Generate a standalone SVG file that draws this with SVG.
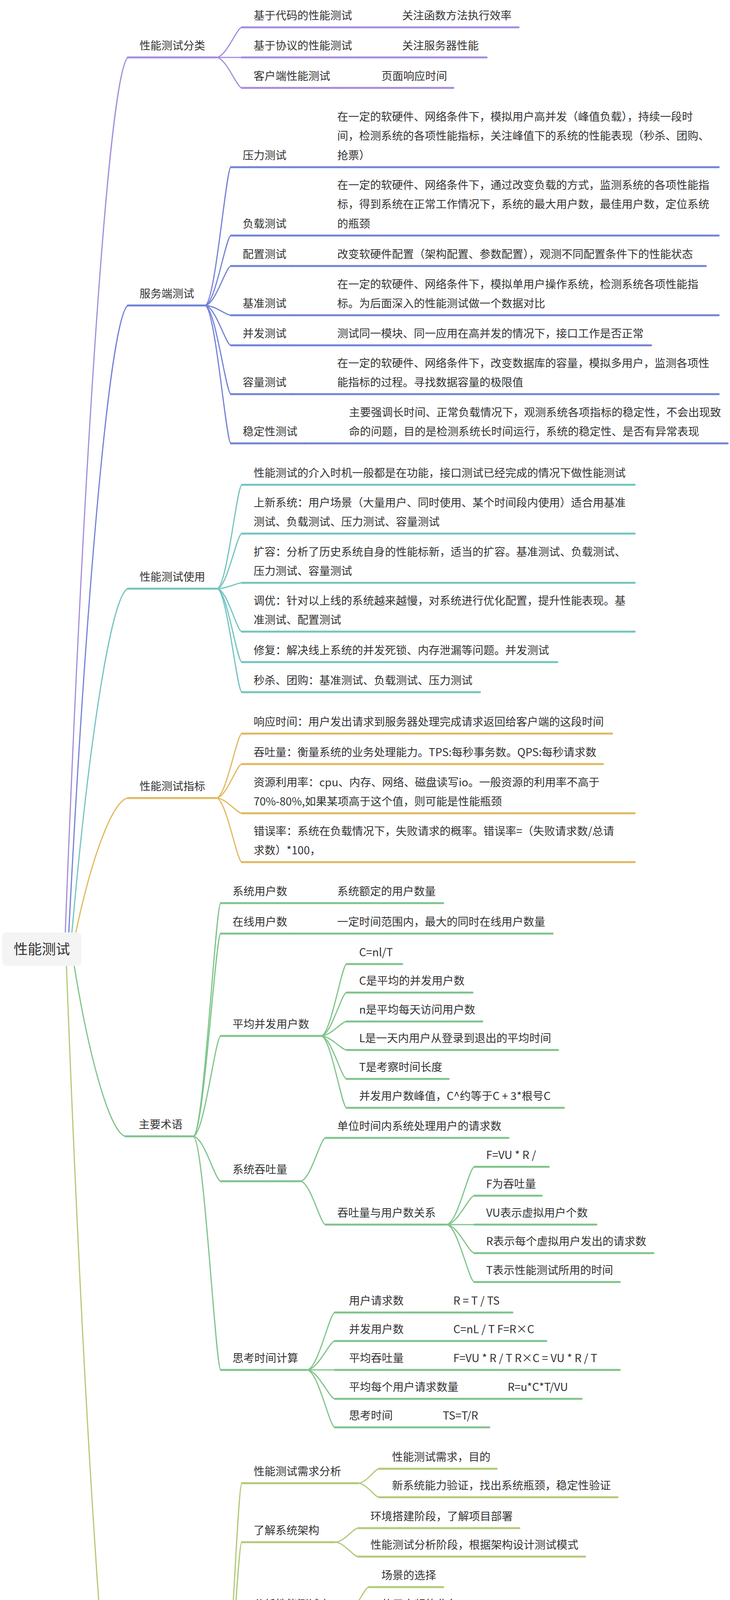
<svg xmlns="http://www.w3.org/2000/svg" width="1868" height="5790" viewBox="0 0 1868 5790">
<style>
.t{font-family:"Noto Sans CJK SC","Noto Sans",sans-serif;font-size:28px;fill:#333333}
.rt{font-family:"Noto Sans CJK SC","Noto Sans",sans-serif;font-size:36px;fill:#333333}
.ul{fill:none;stroke-width:5;stroke-linecap:round}
.cn{fill:none;stroke-width:3;stroke-linecap:round}
.pu{stroke:#a48ddc}.bl{stroke:#7383d7}.te{stroke:#73c4bf}.go{stroke:#e0b85e}.gr{stroke:#7ec48b}.yg{stroke:#b2c977}
</style>
<rect width="1868" height="5790" fill="#ffffff"/>
<g id="connectors">
<path class="cn pu" d="M167 2387 C215 1155 279 192 327 147"/>
<path class="cn bl" d="M176 2387 C221 1504 282 814 327 782"/>
<path class="cn te" d="M184 2387 C227 1903 284 1525 327 1507"/>
<path class="cn go" d="M194 2387 C234 2198 287 2050 327 2043"/>
<path class="cn gr" d="M190 2473 C229 2713 282 2900 321 2909"/>
<path class="cn yg" d="M170 2473 C217 3705 280 4668 327 4713"/>
<path class="cn pu" d="M553 147 C579 147 606 70 619 70"/>
<path class="cn pu" d="M553 147 L619 147"/>
<path class="cn pu" d="M553 147 C579 147 606 225 619 225"/>
<path class="cn bl" d="M524 782 C551 782 578 428 591 428"/>
<path class="cn bl" d="M524 782 C551 782 578 603 591 603"/>
<path class="cn bl" d="M524 782 C551 782 578 681 591 681"/>
<path class="cn bl" d="M524 782 C551 782 578 807 591 807"/>
<path class="cn bl" d="M524 782 C551 782 578 884 591 884"/>
<path class="cn bl" d="M524 782 C551 782 578 1009 591 1009"/>
<path class="cn bl" d="M524 782 C551 782 578 1135 591 1135"/>
<path class="cn te" d="M555 1507 C581 1507 606 1241 619 1241"/>
<path class="cn te" d="M555 1507 C581 1507 606 1366 619 1366"/>
<path class="cn te" d="M555 1507 C581 1507 606 1492 619 1492"/>
<path class="cn te" d="M555 1507 C581 1507 606 1617 619 1617"/>
<path class="cn te" d="M555 1507 C581 1507 606 1695 619 1695"/>
<path class="cn te" d="M555 1507 C581 1507 606 1772 619 1772"/>
<path class="cn go" d="M553 2043 C579 2043 606 1878 619 1878"/>
<path class="cn go" d="M553 2043 C579 2043 606 1956 619 1956"/>
<path class="cn go" d="M553 2043 C579 2043 606 2082 619 2082"/>
<path class="cn go" d="M553 2043 C579 2043 606 2207 619 2207"/>
<path class="cn gr" d="M494 2909 C522 2909 551 2312 565 2312"/>
<path class="cn gr" d="M494 2909 C522 2909 551 2390 565 2390"/>
<path class="cn gr" d="M494 2909 C522 2909 551 2652 565 2652"/>
<path class="cn gr" d="M494 2909 C522 2909 551 3024 565 3024"/>
<path class="cn gr" d="M494 2909 C522 2909 551 3507 565 3507"/>
<path class="cn gr" d="M821 2652 C847 2652 874 2468 887 2468"/>
<path class="cn gr" d="M821 2652 C847 2652 874 2541 887 2541"/>
<path class="cn gr" d="M821 2652 C847 2652 874 2615 887 2615"/>
<path class="cn gr" d="M821 2652 C847 2652 874 2688 887 2688"/>
<path class="cn gr" d="M821 2652 C847 2652 874 2762 887 2762"/>
<path class="cn gr" d="M821 2652 C847 2652 874 2836 887 2836"/>
<path class="cn gr" d="M768 3024 C794 3024 820 2913 833 2913"/>
<path class="cn gr" d="M768 3024 C794 3024 820 3135 833 3135"/>
<path class="cn gr" d="M1142 3135 C1171 3135 1200 2987 1214 2987"/>
<path class="cn gr" d="M1142 3135 C1171 3135 1200 3061 1214 3061"/>
<path class="cn gr" d="M1142 3135 L1214 3135"/>
<path class="cn gr" d="M1142 3135 C1171 3135 1200 3208 1214 3208"/>
<path class="cn gr" d="M1142 3135 C1171 3135 1200 3282 1214 3282"/>
<path class="cn gr" d="M785 3507 C814 3507 843 3360 857 3360"/>
<path class="cn gr" d="M785 3507 C814 3507 843 3433 857 3433"/>
<path class="cn gr" d="M785 3507 L857 3507"/>
<path class="cn gr" d="M785 3507 C814 3507 843 3581 857 3581"/>
<path class="cn gr" d="M785 3507 C814 3507 843 3654 857 3654"/>
<path class="cn yg" d="M547 4713 C576 4713 605 3797 619 3797"/>
<path class="cn yg" d="M547 4713 C576 4713 605 3948 619 3948"/>
<path class="cn yg" d="M547 4713 C576 4713 605 4137 619 4137"/>
<path class="cn yg" d="M547 4713 C576 4713 605 4362 619 4362"/>
<path class="cn yg" d="M547 4713 C576 4713 605 4697 619 4697"/>
<path class="cn yg" d="M547 4713 C576 4713 605 5069 619 5069"/>
<path class="cn yg" d="M547 4713 C576 4713 605 5331 619 5331"/>
<path class="cn yg" d="M547 4713 C576 4713 605 5629 619 5629"/>
<path class="cn yg" d="M916 3797 C938 3797 959 3760 970 3760"/>
<path class="cn yg" d="M916 3797 C938 3797 959 3833 970 3833"/>
<path class="cn yg" d="M857 3948 C881 3948 904 3912 916 3912"/>
<path class="cn yg" d="M857 3948 C881 3948 904 3985 916 3985"/>
<path class="cn yg" d="M881 4137 C906 4137 931 4063 944 4063"/>
<path class="cn yg" d="M881 4137 L944 4137"/>
<path class="cn yg" d="M881 4137 C906 4137 931 4210 944 4210"/>
<path class="cn yg" d="M851 4362 C877 4362 903 4288 916 4288"/>
<path class="cn yg" d="M851 4362 L916 4362"/>
<path class="cn yg" d="M851 4362 C877 4362 903 4435 916 4435"/>
<path class="cn yg" d="M791 4697 C818 4697 845 4513 859 4513"/>
<path class="cn yg" d="M791 4697 C818 4697 845 4587 859 4587"/>
<path class="cn yg" d="M791 4697 C818 4697 845 4660 859 4660"/>
<path class="cn yg" d="M791 4697 C818 4697 845 4734 859 4734"/>
<path class="cn yg" d="M791 4697 C818 4697 845 4807 859 4807"/>
<path class="cn yg" d="M791 4697 C818 4697 845 4881 859 4881"/>
<path class="cn yg" d="M791 5069 C818 5069 845 4959 859 4959"/>
<path class="cn yg" d="M791 5069 C818 5069 845 5032 859 5032"/>
<path class="cn yg" d="M791 5069 C818 5069 845 5106 859 5106"/>
<path class="cn yg" d="M791 5069 C818 5069 845 5180 859 5180"/>
<path class="cn yg" d="M791 5331 C818 5331 845 5258 859 5258"/>
<path class="cn yg" d="M791 5331 L859 5331"/>
<path class="cn yg" d="M791 5331 C818 5331 845 5405 859 5405"/>
<path class="cn yg" d="M904 5629 C930 5629 957 5482 970 5482"/>
<path class="cn yg" d="M904 5629 C930 5629 957 5556 970 5556"/>
<path class="cn yg" d="M904 5629 L970 5629"/>
<path class="cn yg" d="M904 5629 C930 5629 957 5703 970 5703"/>
<path class="cn yg" d="M904 5629 C930 5629 957 5777 970 5777"/>
</g>
<g id="root"><rect x="6" y="2387" width="202" height="86" rx="10" fill="#f4f4f4"/><text class="rt" x="107" y="2443" text-anchor="middle">性能测试</text></g>

<g id="n-fenlei"><line class="ul pu" x1="327" y1="147" x2="553" y2="147"/><text class="t" x="357" y="127">性能测试分类</text></g>
<g id="n-daima"><line class="ul pu" x1="619" y1="70" x2="916" y2="70"/><text class="t" x="649" y="50">基于代码的性能测试</text></g>
<g id="n-daima-v"><line class="ul pu" x1="916" y1="70" x2="1327" y2="70"/><text class="t" x="1029" y="50">关注函数方法执行效率</text></g>
<g id="n-xieyi"><line class="ul pu" x1="619" y1="147" x2="916" y2="147"/><text class="t" x="649" y="127">基于协议的性能测试</text></g>
<g id="n-xieyi-v"><line class="ul pu" x1="916" y1="147" x2="1245" y2="147"/><text class="t" x="1029" y="127">关注服务器性能</text></g>
<g id="n-kehu"><line class="ul pu" x1="619" y1="225" x2="863" y2="225"/><text class="t" x="649" y="205">客户端性能测试</text></g>
<g id="n-kehu-v"><line class="ul pu" x1="863" y1="225" x2="1160" y2="225"/><text class="t" x="976" y="205">页面响应时间</text></g>

<g id="n-fuwu"><line class="ul bl" x1="327" y1="782" x2="524" y2="782"/><text class="t" x="357" y="762">服务端测试</text></g>
<g id="n-yali"><line class="ul bl" x1="591" y1="428" x2="750" y2="428"/><text class="t" x="621" y="408">压力测试</text></g>
<g id="n-yali-d"><line class="ul bl" x1="750" y1="428" x2="1839" y2="428"/><text class="t"><tspan x="863" y="309">在一定的软硬件、网络条件下，模拟用户高并发（峰值负载），持续一段时</tspan><tspan x="863" y="358">间，检测系统的各项性能指标，关注峰值下的系统的性能表现（秒杀、团购、</tspan><tspan x="863" y="408">抢票）</tspan></text></g>
<g id="n-fuzai"><line class="ul bl" x1="591" y1="603" x2="750" y2="603"/><text class="t" x="621" y="583">负载测试</text></g>
<g id="n-fuzai-d"><line class="ul bl" x1="750" y1="603" x2="1839" y2="603"/><text class="t"><tspan x="863" y="484">在一定的软硬件、网络条件下，通过改变负载的方式，监测系统的各项性能指</tspan><tspan x="863" y="533">标，得到系统在正常工作情况下，系统的最大用户数，最佳用户数，定位系统</tspan><tspan x="863" y="583">的瓶颈</tspan></text></g>
<g id="n-peizhi"><line class="ul bl" x1="591" y1="681" x2="750" y2="681"/><text class="t" x="621" y="661">配置测试</text></g>
<g id="n-peizhi-d"><line class="ul bl" x1="750" y1="681" x2="1806" y2="681"/><text class="t" x="863" y="661">改变软硬件配置（架构配置、参数配置），观测不同配置条件下的性能状态</text></g>
<g id="n-jizhun"><line class="ul bl" x1="591" y1="807" x2="750" y2="807"/><text class="t" x="621" y="787">基准测试</text></g>
<g id="n-jizhun-d"><line class="ul bl" x1="750" y1="807" x2="1839" y2="807"/><text class="t"><tspan x="863" y="738">在一定的软硬件、网络条件下，模拟单用户操作系统，检测系统各项性能指</tspan><tspan x="863" y="787">标。为后面深入的性能测试做一个数据对比</tspan></text></g>
<g id="n-bingfa"><line class="ul bl" x1="591" y1="884" x2="750" y2="884"/><text class="t" x="621" y="864">并发测试</text></g>
<g id="n-bingfa-d"><line class="ul bl" x1="750" y1="884" x2="1666" y2="884"/><text class="t" x="863" y="864">测试同一模块、同一应用在高并发的情况下，接口工作是否正常</text></g>
<g id="n-rongliang"><line class="ul bl" x1="591" y1="1009" x2="750" y2="1009"/><text class="t" x="621" y="989">容量测试</text></g>
<g id="n-rongliang-d"><line class="ul bl" x1="750" y1="1009" x2="1839" y2="1009"/><text class="t"><tspan x="863" y="940">在一定的软硬件、网络条件下，改变数据库的容量，模拟多用户，监测各项性</tspan><tspan x="863" y="989">能指标的过程。寻找数据容量的极限值</tspan></text></g>
<g id="n-wending"><line class="ul bl" x1="591" y1="1135" x2="780" y2="1135"/><text class="t" x="621" y="1115">稳定性测试</text></g>
<g id="n-wending-d"><line class="ul bl" x1="780" y1="1135" x2="1862" y2="1135"/><text class="t"><tspan x="893" y="1066">主要强调长时间、正常负载情况下，观测系统各项指标的稳定性，不会出现致</tspan><tspan x="893" y="1115">命的问题，目的是检测系统长时间运行，系统的稳定性、是否有异常表现</tspan></text></g>

<g id="n-shiyong"><line class="ul te" x1="327" y1="1507" x2="555" y2="1507"/><text class="t" x="357" y="1487">性能测试使用</text></g>
<g id="n-su1"><line class="ul te" x1="619" y1="1241" x2="1624" y2="1241"/><text class="t" x="649" y="1221">性能测试的介入时机一般都是在功能，接口测试已经完成的情况下做性能测试</text></g>
<g id="n-su2"><line class="ul te" x1="619" y1="1366" x2="1624" y2="1366"/><text class="t"><tspan x="649" y="1297">上新系统：用户场景（大量用户、同时使用、某个时间段内使用）适合用基准</tspan><tspan x="649" y="1346">测试、负载测试、压力测试、容量测试</tspan></text></g>
<g id="n-su3"><line class="ul te" x1="619" y1="1492" x2="1624" y2="1492"/><text class="t"><tspan x="649" y="1423">扩容：分析了历史系统自身的性能标新，适当的扩容。基准测试、负载测试、</tspan><tspan x="649" y="1472">压力测试、容量测试</tspan></text></g>
<g id="n-su4"><line class="ul te" x1="619" y1="1617" x2="1624" y2="1617"/><text class="t"><tspan x="649" y="1548">调优：针对以上线的系统越来越慢，对系统进行优化配置，提升性能表现。基</tspan><tspan x="649" y="1597">准测试、配置测试</tspan></text></g>
<g id="n-su5"><line class="ul te" x1="619" y1="1695" x2="1426" y2="1695"/><text class="t" x="649" y="1675">修复：解决线上系统的并发死锁、内存泄漏等问题。并发测试</text></g>
<g id="n-su6"><line class="ul te" x1="619" y1="1772" x2="1228" y2="1772"/><text class="t" x="649" y="1752">秒杀、团购：基准测试、负载测试、压力测试</text></g>

<g id="n-zhibiao"><line class="ul go" x1="327" y1="2043" x2="553" y2="2043"/><text class="t" x="357" y="2023">性能测试指标</text></g>
<g id="n-zb1"><line class="ul go" x1="619" y1="1878" x2="1566" y2="1878"/><text class="t" x="649" y="1858">响应时间：用户发出请求到服务器处理完成请求返回给客户端的这段时间</text></g>
<g id="n-zb2"><line class="ul go" x1="619" y1="1956" x2="1543" y2="1956"/><text class="t" x="649" y="1936">吞吐量：衡量系统的业务处理能力。TPS:每秒事务数。QPS:每秒请求数</text></g>
<g id="n-zb3"><line class="ul go" x1="619" y1="2082" x2="1624" y2="2082"/><text class="t"><tspan x="649" y="2013">资源利用率：cpu、内存、网络、磁盘读写io。一般资源的利用率不高于</tspan><tspan x="649" y="2062">70%-80%,如果某项高于这个值，则可能是性能瓶颈</tspan></text></g>
<g id="n-zb4"><line class="ul go" x1="619" y1="2207" x2="1624" y2="2207"/><text class="t"><tspan x="649" y="2138">错误率：系统在负载情况下，失败请求的概率。错误率=（失败请求数/总请</tspan><tspan x="649" y="2187">求数）*100，</tspan></text></g>

<g id="n-shuyu"><line class="ul gr" x1="321" y1="2909" x2="494" y2="2909"/><text class="t" x="355" y="2889">主要术语</text></g>
<g id="n-xtyhs"><line class="ul gr" x1="565" y1="2312" x2="750" y2="2312"/><text class="t" x="595" y="2292">系统用户数</text></g>
<g id="n-xtyhs-v"><line class="ul gr" x1="750" y1="2312" x2="1134" y2="2312"/><text class="t" x="863" y="2292">系统额定的用户数量</text></g>
<g id="n-zxyhs"><line class="ul gr" x1="565" y1="2390" x2="750" y2="2390"/><text class="t" x="595" y="2370">在线用户数</text></g>
<g id="n-zxyhs-v"><line class="ul gr" x1="750" y1="2390" x2="1414" y2="2390"/><text class="t" x="863" y="2370">一定时间范围内，最大的同时在线用户数量</text></g>
<g id="n-pjbf"><line class="ul gr" x1="565" y1="2652" x2="821" y2="2652"/><text class="t" x="595" y="2632">平均并发用户数</text></g>
<g id="n-pj1"><line class="ul gr" x1="887" y1="2468" x2="1029" y2="2468"/><text class="t" x="919" y="2448">C=nl/T</text></g>
<g id="n-pj2"><line class="ul gr" x1="887" y1="2541" x2="1209" y2="2541"/><text class="t" x="919" y="2521">C是平均的并发用户数</text></g>
<g id="n-pj3"><line class="ul gr" x1="887" y1="2615" x2="1234" y2="2615"/><text class="t" x="919" y="2595">n是平均每天访问用户数</text></g>
<g id="n-pj4"><line class="ul gr" x1="887" y1="2688" x2="1428" y2="2688"/><text class="t" x="919" y="2668">L是一天内用户从登录到退出的平均时间</text></g>
<g id="n-pj5"><line class="ul gr" x1="887" y1="2762" x2="1148" y2="2762"/><text class="t" x="919" y="2742">T是考察时间长度</text></g>
<g id="n-pj6"><line class="ul gr" x1="887" y1="2836" x2="1443" y2="2836"/><text class="t" x="919" y="2816">并发用户数峰值，C^约等于C + 3*根号C</text></g>
<g id="n-xttt"><line class="ul gr" x1="565" y1="3024" x2="768" y2="3024"/><text class="t" x="595" y="3004">系统吞吐量</text></g>
<g id="n-tt1"><line class="ul gr" x1="833" y1="2913" x2="1301" y2="2913"/><text class="t" x="863" y="2893">单位时间内系统处理用户的请求数</text></g>
<g id="n-tt2"><line class="ul gr" x1="833" y1="3135" x2="1142" y2="3135"/><text class="t" x="863" y="3115">吞吐量与用户数关系</text></g>
<g id="n-gx1"><line class="ul gr" x1="1214" y1="2987" x2="1404" y2="2987"/><text class="t" x="1244" y="2967">F=VU * R /</text></g>
<g id="n-gx2"><line class="ul gr" x1="1214" y1="3061" x2="1386" y2="3061"/><text class="t" x="1244" y="3041">F为吞吐量</text></g>
<g id="n-gx3"><line class="ul gr" x1="1214" y1="3135" x2="1526" y2="3135"/><text class="t" x="1244" y="3115">VU表示虚拟用户个数</text></g>
<g id="n-gx4"><line class="ul gr" x1="1214" y1="3208" x2="1672" y2="3208"/><text class="t" x="1244" y="3188">R表示每个虚拟用户发出的请求数</text></g>
<g id="n-gx5"><line class="ul gr" x1="1214" y1="3282" x2="1586" y2="3282"/><text class="t" x="1244" y="3262">T表示性能测试所用的时间</text></g>
<g id="n-sksj"><line class="ul gr" x1="565" y1="3507" x2="785" y2="3507"/><text class="t" x="595" y="3487">思考时间计算</text></g>
<g id="n-sk1"><line class="ul gr" x1="857" y1="3360" x2="1047" y2="3360"/><text class="t" x="893" y="3340">用户请求数</text></g>
<g id="n-sk1-v"><line class="ul gr" x1="1047" y1="3360" x2="1311" y2="3360"/><text class="t" x="1160" y="3340">R = T / TS</text></g>
<g id="n-sk2"><line class="ul gr" x1="857" y1="3433" x2="1047" y2="3433"/><text class="t" x="893" y="3413">并发用户数</text></g>
<g id="n-sk2-v"><line class="ul gr" x1="1047" y1="3433" x2="1398" y2="3433"/><text class="t" x="1160" y="3413">C=nL / T F=R×C</text></g>
<g id="n-sk3"><line class="ul gr" x1="857" y1="3507" x2="1047" y2="3507"/><text class="t" x="893" y="3487">平均吞吐量</text></g>
<g id="n-sk3-v"><line class="ul gr" x1="1047" y1="3507" x2="1586" y2="3507"/><text class="t" x="1160" y="3487">F=VU * R / T R×C = VU * R / T</text></g>
<g id="n-sk4"><line class="ul gr" x1="857" y1="3581" x2="1186" y2="3581"/><text class="t" x="893" y="3561">平均每个用户请求数量</text></g>
<g id="n-sk4-v"><line class="ul gr" x1="1186" y1="3581" x2="1488" y2="3581"/><text class="t" x="1299" y="3561">R=u*C*T/VU</text></g>
<g id="n-sk5"><line class="ul gr" x1="857" y1="3654" x2="1020" y2="3654"/><text class="t" x="893" y="3634">思考时间</text></g>
<g id="n-sk5-v"><line class="ul gr" x1="1020" y1="3654" x2="1252" y2="3654"/><text class="t" x="1133" y="3634">TS=T/R</text></g>

<g id="n-liucheng"><line class="ul yg" x1="327" y1="4713" x2="547" y2="4713"/><text class="t" x="357" y="4693">性能测试流程</text></g>
<g id="n-xqfx"><line class="ul yg" x1="619" y1="3797" x2="916" y2="3797"/><text class="t" x="649" y="3777">性能测试需求分析</text></g>
<g id="n-xq1"><line class="ul yg" x1="970" y1="3760" x2="1271" y2="3760"/><text class="t" x="1003" y="3740">性能测试需求，目的</text></g>
<g id="n-xq2"><line class="ul yg" x1="970" y1="3833" x2="1580" y2="3833"/><text class="t" x="1003" y="3813">新系统能力验证，找出系统瓶颈，稳定性验证</text></g>
<g id="n-jg"><line class="ul yg" x1="619" y1="3948" x2="857" y2="3948"/><text class="t" x="649" y="3928">了解系统架构</text></g>
<g id="n-jg1"><line class="ul yg" x1="916" y1="3912" x2="1329" y2="3912"/><text class="t" x="948" y="3892">环境搭建阶段，了解项目部署</text></g>
<g id="n-jg2"><line class="ul yg" x1="916" y1="3985" x2="1497" y2="3985"/><text class="t" x="948" y="3965">性能测试分析阶段，根据架构设计测试模式</text></g>
<g id="n-csd"><line class="ul yg" x1="619" y1="4137" x2="881" y2="4137"/><text class="t" x="649" y="4117">分析性能测试点</text></g>
<g id="n-csd1"><line class="ul yg" x1="944" y1="4063" x2="1134" y2="4063"/><text class="t" x="976" y="4043">场景的选择</text></g>
<g id="n-csd2"><line class="ul yg" x1="944" y1="4137" x2="1190" y2="4137"/><text class="t" x="976" y="4117">使用高频的业务</text></g>
<g id="n-csd3"><line class="ul yg" x1="944" y1="4210" x2="1245" y2="4210"/><text class="t" x="976" y="4190">资源占用严重的业务</text></g>
<g id="n-gj"><line class="ul yg" x1="619" y1="4362" x2="851" y2="4362"/><text class="t" x="649" y="4342">测试工具选型</text></g>
<g id="n-gj1"><line class="ul yg" x1="916" y1="4288" x2="1077" y2="4288"/><text class="t" x="948" y="4268">开源工具</text></g>
<g id="n-gj2"><line class="ul yg" x1="916" y1="4362" x2="1077" y2="4362"/><text class="t" x="948" y="4342">商业工具</text></g>
<g id="n-gj3"><line class="ul yg" x1="916" y1="4435" x2="1077" y2="4435"/><text class="t" x="948" y="4415">自研工具</text></g>
<g id="n-jh"><line class="ul yg" x1="619" y1="4697" x2="791" y2="4697"/><text class="t" x="649" y="4677">测试计划</text></g>
<g id="n-jh1"><line class="ul yg" x1="859" y1="4513" x2="1077" y2="4513"/><text class="t" x="893" y="4493">性能测试需求</text></g>
<g id="n-jh2"><line class="ul yg" x1="859" y1="4587" x2="1021" y2="4587"/><text class="t" x="893" y="4567">测试环境</text></g>
<g id="n-jh3"><line class="ul yg" x1="859" y1="4660" x2="1021" y2="4660"/><text class="t" x="893" y="4640">数据准备</text></g>
<g id="n-jh4"><line class="ul yg" x1="859" y1="4734" x2="1021" y2="4734"/><text class="t" x="893" y="4714">测试工具</text></g>
<g id="n-jh5"><line class="ul yg" x1="859" y1="4807" x2="1021" y2="4807"/><text class="t" x="893" y="4787">测试策略</text></g>
<g id="n-jh6"><line class="ul yg" x1="859" y1="4881" x2="1077" y2="4881"/><text class="t" x="893" y="4861">人力时间安排</text></g>
<g id="n-hj"><line class="ul yg" x1="619" y1="5069" x2="791" y2="5069"/><text class="t" x="649" y="5049">环境搭建</text></g>
<g id="n-hj1"><line class="ul yg" x1="859" y1="4959" x2="1160" y2="4959"/><text class="t" x="893" y="4939">测试环境与生产一致</text></g>
<g id="n-hj2"><line class="ul yg" x1="859" y1="5032" x2="1357" y2="5032"/><text class="t" x="893" y="5012">硬件环境机器数与请求书按比例一致</text></g>
<g id="n-hj3"><line class="ul yg" x1="859" y1="5106" x2="1329" y2="5106"/><text class="t" x="893" y="5086">软件环境（系统版本，软件版本）</text></g>
<g id="n-hj4"><line class="ul yg" x1="859" y1="5180" x2="1077" y2="5180"/><text class="t" x="893" y="5160">使用场景一致</text></g>
<g id="n-zx"><line class="ul yg" x1="619" y1="5331" x2="791" y2="5331"/><text class="t" x="649" y="5311">测试执行</text></g>
<g id="n-zx1"><line class="ul yg" x1="859" y1="5258" x2="1077" y2="5258"/><text class="t" x="893" y="5238">准备测试数据</text></g>
<g id="n-zx2"><line class="ul yg" x1="859" y1="5331" x2="1134" y2="5331"/><text class="t" x="893" y="5311">使用工具实现操作</text></g>
<g id="n-zx3"><line class="ul yg" x1="859" y1="5405" x2="1301" y2="5405"/><text class="t" x="893" y="5385">根据测试策略，监控资源利用率</text></g>
<g id="n-pj"><line class="ul yg" x1="619" y1="5629" x2="904" y2="5629"/><text class="t" x="649" y="5609">瓶颈分析系统调优</text></g>
<g id="n-pjd1"><line class="ul yg" x1="970" y1="5482" x2="1610" y2="5482"/><text class="t" x="1003" y="5462">调优由研发，运维主导，反复验证性能是否提升</text></g>
<g id="n-pjd2"><line class="ul yg" x1="970" y1="5556" x2="1271" y2="5556"/><text class="t" x="1003" y="5536">调优顺序，从易到难</text></g>
<g id="n-pjd3"><line class="ul yg" x1="970" y1="5629" x2="1271" y2="5629"/><text class="t" x="1003" y="5609">硬件问题，网络问题</text></g>
<g id="n-pjd4"><line class="ul yg" x1="970" y1="5703" x2="1526" y2="5703"/><text class="t" x="1003" y="5683">应用服务器，数据库配置问题，脚本问题</text></g>
<g id="n-pjd5"><line class="ul yg" x1="970" y1="5777" x2="1188" y2="5777"/><text class="t" x="1003" y="5757">系统架构问题</text></g>
</svg>
